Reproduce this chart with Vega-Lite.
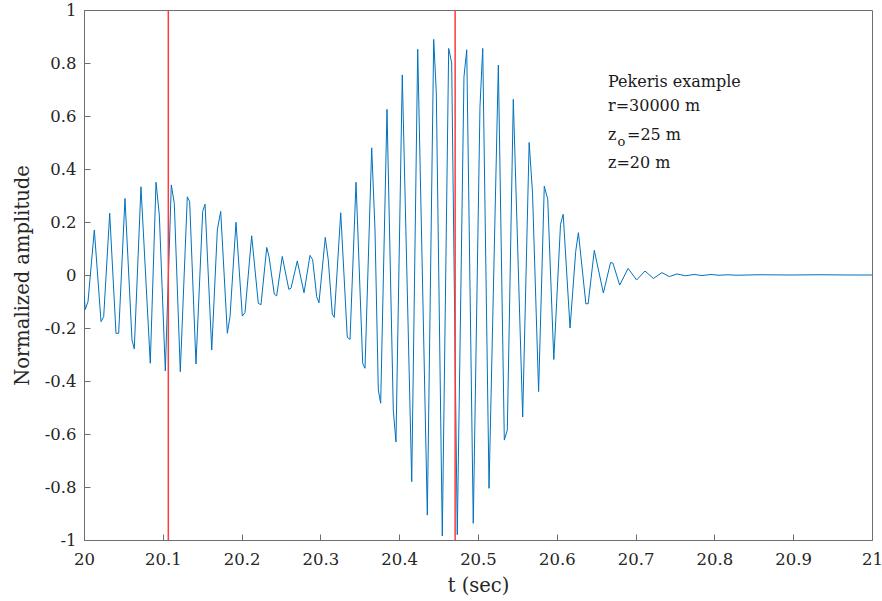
{
  "$schema": "https://vega.github.io/schema/vega-lite/v6.json",
  "width": 788,
  "height": 530,
  "autosize": {"type": "none"},
  "padding": {"left": 84, "top": 10, "right": 10, "bottom": 61},
  "background": "white",
  "config": {
    "view": {"stroke": "#6e6e6e", "strokeWidth": 1},
    "axis": {
      "grid": false,
      "domainColor": "#6e6e6e",
      "tickColor": "#6e6e6e",
      "labelFont": "DejaVu Serif",
      "titleFont": "DejaVu Serif",
      "labelColor": "#262626",
      "titleColor": "#262626",
      "labelFontSize": 16.5,
      "titleFontSize": 19.5,
      "titleFontWeight": "normal",
      "labelFlush": false
    }
  },
  "datasets": {
    "sig": [
      {"t": 20.0000, "a": -0.07},
      {"t": 20.0016, "a": -0.13},
      {"t": 20.0051, "a": -0.10},
      {"t": 20.0131, "a": 0.17},
      {"t": 20.0216, "a": -0.176},
      {"t": 20.0250, "a": -0.157},
      {"t": 20.0326, "a": 0.233},
      {"t": 20.0406, "a": -0.22},
      {"t": 20.0440, "a": -0.22},
      {"t": 20.0520, "a": 0.289},
      {"t": 20.0609, "a": -0.245},
      {"t": 20.0638, "a": -0.279},
      {"t": 20.0723, "a": 0.333},
      {"t": 20.0841, "a": -0.333},
      {"t": 20.0914, "a": 0.35},
      {"t": 20.0956, "a": 0.226},
      {"t": 20.1032, "a": -0.362},
      {"t": 20.1108, "a": 0.34},
      {"t": 20.1146, "a": 0.27},
      {"t": 20.1222, "a": -0.365},
      {"t": 20.1311, "a": 0.295},
      {"t": 20.1341, "a": 0.277},
      {"t": 20.1421, "a": -0.336},
      {"t": 20.1506, "a": 0.24},
      {"t": 20.1536, "a": 0.267},
      {"t": 20.1621, "a": -0.283},
      {"t": 20.1692, "a": 0.17},
      {"t": 20.1735, "a": 0.24},
      {"t": 20.1819, "a": -0.22},
      {"t": 20.1853, "a": -0.157},
      {"t": 20.1929, "a": 0.199},
      {"t": 20.2009, "a": -0.155},
      {"t": 20.2043, "a": -0.142},
      {"t": 20.2128, "a": 0.148},
      {"t": 20.2212, "a": -0.107},
      {"t": 20.2246, "a": -0.112},
      {"t": 20.2319, "a": 0.104},
      {"t": 20.2348, "a": 0.069},
      {"t": 20.2415, "a": -0.072},
      {"t": 20.2445, "a": -0.079},
      {"t": 20.2516, "a": 0.07},
      {"t": 20.2599, "a": -0.054},
      {"t": 20.2627, "a": -0.05},
      {"t": 20.2707, "a": 0.053},
      {"t": 20.2792, "a": -0.067},
      {"t": 20.2868, "a": 0.074},
      {"t": 20.2902, "a": 0.057},
      {"t": 20.2953, "a": -0.082},
      {"t": 20.2982, "a": -0.105},
      {"t": 20.3062, "a": 0.142},
      {"t": 20.3100, "a": 0.057},
      {"t": 20.3151, "a": -0.147},
      {"t": 20.3176, "a": -0.16},
      {"t": 20.3258, "a": 0.235},
      {"t": 20.3341, "a": -0.235},
      {"t": 20.3376, "a": -0.243},
      {"t": 20.3452, "a": 0.35},
      {"t": 20.3537, "a": -0.333},
      {"t": 20.3566, "a": -0.352},
      {"t": 20.3651, "a": 0.48},
      {"t": 20.3693, "a": 0.17},
      {"t": 20.3735, "a": -0.434},
      {"t": 20.3765, "a": -0.484},
      {"t": 20.3845, "a": 0.625},
      {"t": 20.3925, "a": -0.51},
      {"t": 20.3959, "a": -0.63},
      {"t": 20.4039, "a": 0.755},
      {"t": 20.4159, "a": -0.78},
      {"t": 20.4235, "a": 0.852},
      {"t": 20.4357, "a": -0.906},
      {"t": 20.4438, "a": 0.889},
      {"t": 20.4471, "a": 0.686},
      {"t": 20.4547, "a": -0.985},
      {"t": 20.4628, "a": 0.855},
      {"t": 20.4666, "a": 0.80},
      {"t": 20.4737, "a": -0.98},
      {"t": 20.4822, "a": 0.748},
      {"t": 20.4857, "a": 0.85},
      {"t": 20.4940, "a": -0.937},
      {"t": 20.5025, "a": 0.635},
      {"t": 20.5060, "a": 0.855},
      {"t": 20.5140, "a": -0.805},
      {"t": 20.5258, "a": 0.792},
      {"t": 20.5334, "a": -0.623},
      {"t": 20.5372, "a": -0.585},
      {"t": 20.5448, "a": 0.663},
      {"t": 20.5567, "a": -0.536},
      {"t": 20.5649, "a": 0.50},
      {"t": 20.5692, "a": 0.31},
      {"t": 20.5769, "a": -0.44},
      {"t": 20.5841, "a": 0.335},
      {"t": 20.5885, "a": 0.286},
      {"t": 20.5962, "a": -0.319},
      {"t": 20.6047, "a": 0.191},
      {"t": 20.6081, "a": 0.229},
      {"t": 20.6168, "a": -0.20},
      {"t": 20.6240, "a": 0.089},
      {"t": 20.6274, "a": 0.16},
      {"t": 20.6369, "a": -0.109},
      {"t": 20.6398, "a": -0.108},
      {"t": 20.6476, "a": 0.093},
      {"t": 20.6591, "a": -0.068},
      {"t": 20.6682, "a": 0.047},
      {"t": 20.6712, "a": 0.045},
      {"t": 20.6798, "a": -0.038},
      {"t": 20.6905, "a": 0.025},
      {"t": 20.7013, "a": -0.019},
      {"t": 20.7119, "a": 0.015},
      {"t": 20.7226, "a": -0.013},
      {"t": 20.7334, "a": 0.009},
      {"t": 20.7428, "a": -0.006},
      {"t": 20.7525, "a": 0.004},
      {"t": 20.7633, "a": -0.003},
      {"t": 20.7741, "a": 0.002},
      {"t": 20.7843, "a": -0.002},
      {"t": 20.7957, "a": 0.002},
      {"t": 20.8058, "a": -0.001},
      {"t": 20.8173, "a": 0.001},
      {"t": 20.8274, "a": -0.001},
      {"t": 20.8579, "a": 0.001},
      {"t": 20.8959, "a": 0.0},
      {"t": 20.9340, "a": 0.001},
      {"t": 20.9721, "a": 0.0},
      {"t": 21.0000, "a": 0.0}
    ],
    "marks": [
      {"t": 20.107},
      {"t": 20.471}
    ],
    "notes": [
      {"t": 20.665, "a": 0.728, "label": "Pekeris example"},
      {"t": 20.665, "a": 0.636, "label": "r=30000 m"},
      {"t": 20.665, "a": 0.528, "label": "z"},
      {"t": 20.665, "a": 0.421, "label": "z=20 m"}
    ],
    "rest": [
      {"t": 20.665, "a": 0.528, "label": "=25 m"}
    ],
    "subs": [
      {"t": 20.665, "a": 0.528, "label": "o"}
    ]
  },
  "layer": [
    {
      "data": {"name": "sig"},
      "mark": {"type": "line", "color": "#0072BD", "strokeWidth": 1, "clip": true},
      "encoding": {
        "x": {
          "field": "t", "type": "quantitative",
          "scale": {"domain": [20, 21], "nice": false, "zero": false},
          "axis": {
            "title": "t (sec)",
            "values": [20, 20.1, 20.2, 20.3, 20.4, 20.5, 20.6, 20.7, 20.8, 20.9, 21],
            "format": ".1~f",
            "tickSize": -6,
            "labelPadding": 17,
            "titlePadding": 9
          }
        },
        "y": {
          "field": "a", "type": "quantitative",
          "scale": {"domain": [-1, 1], "nice": false},
          "axis": {
            "title": "Normalized amplitude",
            "values": [-1, -0.8, -0.6, -0.4, -0.2, 0, 0.2, 0.4, 0.6, 0.8, 1],
            "labelExpr": "replace(format(datum.value, '~g'), '\u2212', '-')",
            "tickSize": -6,
            "labelPadding": 14,
            "titleX": -52,
            "titleY": 265
          }
        }
      }
    },
    {
      "data": {"name": "marks"},
      "mark": {"type": "rule", "color": "#ff3b3b", "strokeWidth": 1.5},
      "encoding": {
        "x": {"field": "t", "type": "quantitative"}
      }
    },
    {
      "data": {"name": "notes"},
      "mark": {"type": "text", "align": "left", "baseline": "middle", "font": "DejaVu Serif", "fontSize": 16, "color": "#1a1a1a"},
      "encoding": {
        "x": {"field": "t", "type": "quantitative"},
        "y": {"field": "a", "type": "quantitative"},
        "text": {"field": "label"}
      }
    },
    {
      "data": {"name": "rest"},
      "mark": {"type": "text", "align": "left", "baseline": "middle", "font": "DejaVu Serif", "fontSize": 16, "color": "#1a1a1a", "dx": 19},
      "encoding": {
        "x": {"field": "t", "type": "quantitative"},
        "y": {"field": "a", "type": "quantitative"},
        "text": {"field": "label"}
      }
    },
    {
      "data": {"name": "subs"},
      "mark": {"type": "text", "align": "left", "baseline": "middle", "font": "DejaVu Serif", "fontSize": 13, "color": "#1a1a1a", "dx": 9.5, "dy": 7},
      "encoding": {
        "x": {"field": "t", "type": "quantitative"},
        "y": {"field": "a", "type": "quantitative"},
        "text": {"field": "label"}
      }
    }
  ]
}
